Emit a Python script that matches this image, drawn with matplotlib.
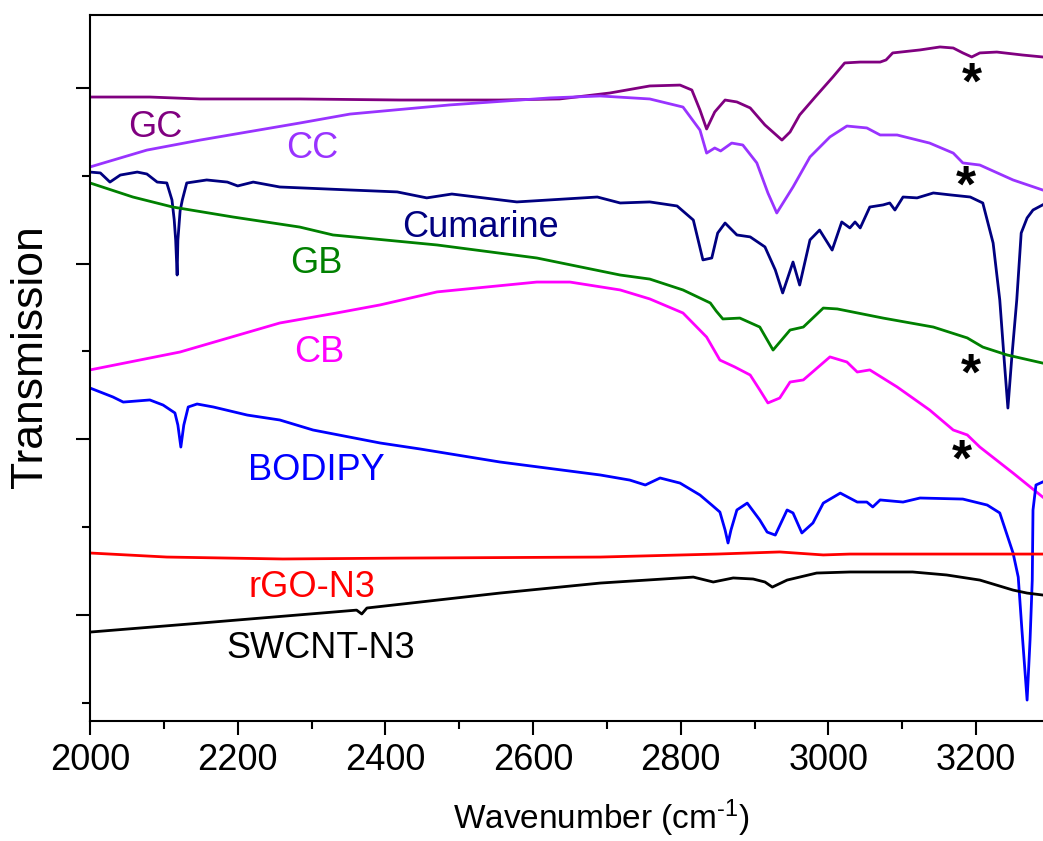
import matplotlib
matplotlib.use("Agg")
import matplotlib.pyplot as plt
from matplotlib.ticker import MultipleLocator

plt.rcParams['font.family'] = ['Liberation Sans', 'DejaVu Sans']
plt.rcParams['mathtext.fontset'] = 'custom'
plt.rcParams['mathtext.rm'] = 'Liberation Sans'
plt.rcParams['mathtext.default'] = 'regular'

# FTIR traces, wavenumber (cm-1) vs. transmission (arbitrary, offset units)
gc_x = [2000, 2081, 2149, 2284, 2420, 2555, 2636, 2704, 2758, 2799, 2815, 2826, 2835, 2846, 2860,
        2876, 2894, 2914, 2937, 2948, 2961, 2982, 3006, 3022, 3043, 3070, 3078, 3087, 3124, 3151,
        3169, 3182, 3194, 3205, 3228, 3263, 3290]
gc_y = [29.48, 29.48, 29.37, 29.37, 29.31, 29.31, 29.37, 29.71, 30.11, 30.16, 29.88, 28.74, 27.66,
        28.63, 29.31, 29.20, 28.86, 27.89, 27.03, 27.49, 28.46, 29.48, 30.62, 31.42, 31.47, 31.47,
        31.59, 31.99, 32.16, 32.33, 32.27, 31.99, 31.76, 31.99, 32.04, 31.87, 31.76]

cc_x = [2000, 2077, 2149, 2284, 2352, 2487, 2623, 2691, 2758, 2803, 2826, 2835, 2846, 2854, 2869,
        2884, 2903, 2918, 2930, 2952, 2975, 3002, 3025, 3052, 3070, 3093, 3137, 3169, 3182, 3205,
        3250, 3290]
cc_y = [25.50, 26.46, 27.03, 28.00, 28.51, 29.03, 29.43, 29.54, 29.37, 28.91, 27.60, 26.29, 26.58,
        26.41, 26.86, 26.75, 25.73, 24.02, 22.88, 24.36, 26.07, 27.21, 27.83, 27.72, 27.32, 27.32,
        26.86, 26.29, 25.73, 25.61, 24.76, 24.19]

cum_x = [2000, 2014, 2027, 2041, 2064, 2077, 2091, 2104, 2111, 2114, 2116, 2118, 2119, 2122, 2125,
         2131, 2158, 2186, 2200, 2221, 2257, 2352, 2416, 2456, 2490, 2578, 2687, 2718, 2758, 2795,
         2817, 2830, 2842, 2850, 2860, 2876, 2894, 2914, 2928, 2938, 2952, 2961, 2975, 2988, 3005,
         3018, 3029, 3036, 3043, 3056, 3074, 3083, 3090, 3101, 3120, 3142, 3165, 3192, 3209, 3223,
         3232, 3238, 3243, 3248, 3255, 3261, 3269, 3277, 3290]
cum_y = [25.21, 25.16, 24.64, 25.04, 25.21, 25.10, 24.64, 24.59, 23.62, 22.50, 21.34, 19.35, 21.34,
         23.00, 23.62, 24.59, 24.76, 24.64, 24.42, 24.64, 24.36, 24.19, 24.08, 23.74, 23.96, 23.51,
         23.79, 23.45, 23.51, 23.28, 22.48, 20.21, 20.32, 21.74, 22.31, 21.63, 21.52, 20.95, 19.64,
         18.33, 20.09, 18.78, 21.35, 21.91, 20.77, 22.37, 22.03, 22.37, 22.03, 23.22, 23.34, 23.45,
         23.05, 23.79, 23.74, 24.02, 23.91, 23.79, 23.45, 21.17, 17.93, 14.51, 11.78, 14.51, 17.93,
         21.74, 22.60, 23.05, 23.34]

gb_x = [2000, 2058, 2112, 2194, 2284, 2329, 2470, 2605, 2718, 2758, 2803, 2840, 2848, 2857, 2880,
        2907, 2925, 2948, 2966, 2993, 3012, 3074, 3142, 3188, 3209, 3242, 3290]
gb_y = [24.59, 23.79, 23.22, 22.65, 22.08, 21.63, 21.06, 20.32, 19.35, 19.12, 18.50, 17.76, 17.30,
        16.85, 16.90, 16.39, 15.08, 16.22, 16.39, 17.47, 17.42, 16.90, 16.39, 15.77, 15.25, 14.80, 14.34]

cb_x = [2000, 2122, 2257, 2334, 2393, 2470, 2605, 2650, 2718, 2758, 2803, 2835, 2853, 2873, 2894,
        2907, 2918, 2934, 2948, 2966, 3002, 3025, 3039, 3056, 3093, 3137, 3169, 3188, 3205, 3250, 3290]
cb_y = [13.95, 14.97, 16.62, 17.19, 17.65, 18.39, 18.95, 18.95, 18.50, 17.99, 17.19, 15.82, 14.51,
        14.12, 13.66, 12.81, 12.07, 12.35, 13.26, 13.38, 14.69, 14.40, 13.83, 13.95, 12.98, 11.67,
        10.53, 10.25, 9.56, 8.08, 6.72]

bod_x = [2000, 2031, 2045, 2081, 2099, 2115, 2119, 2123, 2127, 2133, 2145, 2167, 2213, 2257, 2302,
         2393, 2447, 2555, 2691, 2731, 2752, 2772, 2799, 2826, 2842, 2853, 2860, 2864, 2868, 2876,
         2890, 2907, 2917, 2928, 2944, 2952, 2964, 2979, 2993, 3016, 3039, 3052, 3060, 3070, 3101,
         3124, 3182, 3215, 3232, 3250, 3257, 3262, 3269, 3273, 3276, 3277, 3281, 3290]
bod_y = [12.92, 12.41, 12.12, 12.24, 11.95, 11.50, 10.81, 9.56, 10.81, 11.84, 12.01, 11.84, 11.38,
         11.10, 10.53, 9.79, 9.45, 8.71, 7.97, 7.68, 7.40, 7.80, 7.51, 6.83, 6.26, 5.86, 4.84, 4.10,
         4.84, 5.98, 6.37, 5.41, 4.72, 4.55, 5.98, 5.81, 4.67, 5.24, 6.37, 6.94, 6.43, 6.43, 6.15,
         6.55, 6.43, 6.66, 6.60, 6.26, 5.81, 3.53, 2.16, -0.85, -4.84, -1.42, 1.99, 5.98, 7.40, 7.57]

rgo_x = [2000, 2104, 2261, 2420, 2691, 2849, 2934, 2993, 3029, 3290]
rgo_y = [3.53, 3.30, 3.19, 3.24, 3.30, 3.47, 3.59, 3.42, 3.47, 3.47]

swc_x = [2000, 2149, 2361, 2368, 2375, 2447, 2555, 2691, 2817, 2844, 2871, 2898, 2914, 2924, 2944,
         2984, 3029, 3114, 3160, 3205, 3250, 3269, 3290]
swc_y = [-0.97, -0.46, 0.28, 0.06, 0.40, 0.74, 1.25, 1.82, 2.16, 1.88, 2.11, 2.05, 1.88, 1.59, 1.99,
         2.39, 2.45, 2.45, 2.28, 1.99, 1.42, 1.25, 1.14]

# labels: text, x, baseline y, colour
names = ['GC', 'CC', 'Cumarine', 'GB', 'CB', 'BODIPY', 'rGO-N3', 'SWCNT-N3']
name_x = [2088, 2301, 2529, 2306, 2310, 2306, 2301, 2313]
name_y = [27.21, 26.01, 21.51, 19.46, 14.40, 7.68, 1.02, -2.45]
colors = ['#800080', '#9933FF', '#000080', '#008000', '#FF00FF', '#0000FF', '#FF0000', '#000000']

star_x = [3194, 3186, 3193, 3181]
star_y = [30.15, 24.30, 13.60, 8.70]

fig = plt.figure(figsize=(10.43, 8.41), dpi=100)
ax = fig.add_axes([0.0863, 0.1427, 0.9204, 0.8395])

series = [(gc_x, gc_y), (cc_x, cc_y), (cum_x, cum_y), (gb_x, gb_y),
          (cb_x, cb_y), (bod_x, bod_y), (rgo_x, rgo_y), (swc_x, swc_y)]
for (xs, ys), c in zip(series, colors):
    ax.plot(xs, ys, color=c, linewidth=2.0)

for n, x, y, c in zip(names, name_x, name_y, colors):
    ax.text(x, y, n, color=c, fontsize=26, ha='center', va='baseline')

for x, y in zip(star_x, star_y):
    ax.text(x, y, '*', fontsize=37, fontweight='bold', ha='center', va='center')

ax.set_xlim(2000, 3300)
ax.set_ylim(-6.03, 34.15)
ax.xaxis.set_major_locator(MultipleLocator(200))
ax.xaxis.set_minor_locator(MultipleLocator(100))
ax.yaxis.set_major_locator(MultipleLocator(10))
ax.yaxis.set_minor_locator(MultipleLocator(5))
ax.tick_params(which='both', direction='out', width=1.5, top=False, right=False)
ax.tick_params(which='major', length=10)
ax.tick_params(which='minor', length=6)
ax.tick_params(axis='x', labelsize=26, pad=6)
ax.tick_params(axis='y', labelleft=False)
for s in ax.spines.values():
    s.set_linewidth(1.5)

ax.set_xlabel('Wavenumber (cm$^{\u2010 1}$)', fontsize=24)
ax.xaxis.set_label_coords(0.533, -0.108)
ax.set_ylabel('Transmission', fontsize=32)
ax.yaxis.set_label_coords(-0.041, 0.516)

fig.savefig('out.png', dpi=100)
